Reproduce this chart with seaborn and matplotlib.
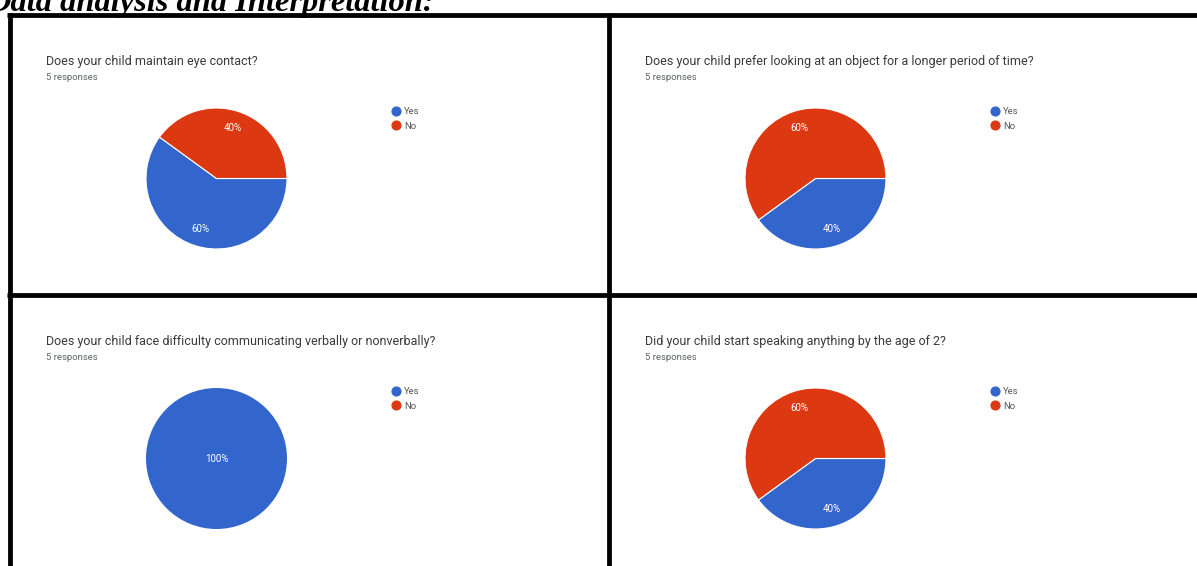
import matplotlib
matplotlib.use("Agg")
import matplotlib.pyplot as plt
from matplotlib.lines import Line2D
import seaborn as sns

# Survey answers (percent of 5 responses)
questions = [
    "Does your child maintain eye contact?",
    "Does your child prefer looking at an object for a longer period of time?",
    "Does your child face difficulty communicating verbally or nonverbally?",
    "Did your child start speaking anything by the age of 2?",
]
answer_labels = ["Yes", "No"]
yes_pct = [60, 40, 100, 40]
no_pct = [40, 60, 0, 60]
responses = 5
heading = "Data analysis and Interpretation:"

sns.set_theme(style="white")
palette = sns.color_palette(["#3366CC", "#DC3912"])
plt.rcParams["font.family"] = ["Roboto", "DejaVu Sans"]

W, H = 1197, 566
fig = plt.figure(figsize=(W / 100, H / 100), dpi=100)
fig.patch.set_facecolor("white")


def fx(x):
    return x / W


def fy(y):
    return 1 - y / H


# Heading, partly cut off at the top of the page
fig.text(fx(-13), fy(10.5), heading, family="Liberation Serif", fontweight="bold",
         fontstyle="italic", fontsize=23.4, color="black", va="baseline", ha="left")

# Panel grid lines
border_lw = 4.8 * 72 / 100
for (x0, y0, x1, y1) in [(7, 15, W, 15), (7, 295, W, 295),
                         (9.5, 13, 9.5, H), (608.5, 13, 608.5, H)]:
    fig.add_artist(Line2D([fx(x0), fx(x1)], [fy(y0), fy(y1)], color="black",
                          lw=border_lw, solid_capstyle="butt",
                          transform=fig.transFigure))

panel_x = [12, 611, 12, 611]
panel_y = [17, 17, 297, 297]
R = 70.5

for i, q in enumerate(questions):
    px, py = panel_x[i], panel_y[i]
    fig.text(fx(px + 34), fy(py + 45), q, fontsize=9, color="#3a3a3a",
             va="center", ha="left")
    fig.text(fx(px + 34), fy(py + 60), f"{responses} responses", fontsize=6.8,
             color="#5f6368", va="center", ha="left")

    cx, cy = px + 204.5, py + 161.5
    ax = fig.add_axes([fx(cx - R), fy(cy + R), 2 * R / W, 2 * R / H])
    vals = [yes_pct[i], no_pct[i]]
    wedges, _, autotexts = ax.pie(
        vals, colors=palette, startangle=0, counterclock=False,
        autopct=lambda p: f"{p:.0f}%" if p > 0.5 else "",
        pctdistance=0.75, wedgeprops=dict(edgecolor="white", linewidth=0.8),
        textprops=dict(color="white", fontsize=7),
    )
    total = sum(vals)
    for v, w, t in zip(vals, wedges, autotexts):
        if v == total:
            t.set_position((0, 0))
        if v == total or v == 0:
            # a full circle has no slice boundary to outline
            w.set_linewidth(0)
    ax.set_xlim(-1, 1)
    ax.set_ylim(-1, 1)
    ax.set_aspect("equal")
    ax.axis("off")

    handles = [Line2D([], [], marker="o", linestyle="none", markersize=6.3,
                      markerfacecolor=c, markeredgecolor=c) for c in palette]
    fig.legend(handles, answer_labels, loc="upper left",
               bbox_to_anchor=(fx(px + 380), fy(py + 90)), frameon=False,
               fontsize=6.8, handlelength=0.8, handletextpad=0.45,
               labelspacing=0.6, borderpad=0, borderaxespad=0,
               labelcolor="#555555")

fig.savefig("out.png", dpi=100, facecolor="white")
